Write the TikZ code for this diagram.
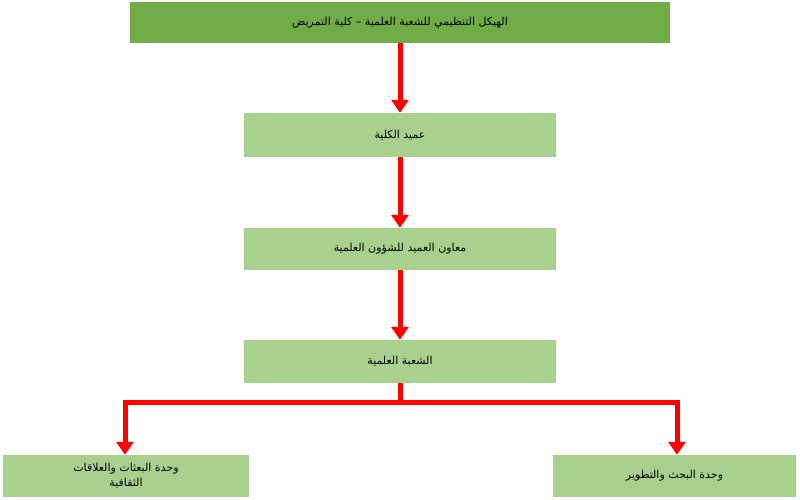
\documentclass[tikz,border=0pt]{standalone}
\usepackage{fontspec}
\newfontfamily\arabicfont[Script=Arabic]{DejaVu Sans}
\TeXXeTstate=1
\usetikzlibrary{arrows.meta}
\begin{document}
\begin{tikzpicture}[x=1pt,y=-1pt,
  box/.style={fill=#1,draw=none,minimum height=43pt,inner sep=0pt,font=\arabicfont\fontsize{11}{15}\selectfont,align=center},
  arr/.style={draw=red,line width=5pt,-{Triangle[length=13pt,width=17pt]}},
  ln/.style={draw=red,line width=5pt}]
\useasboundingbox (0,0) rectangle (800,500);
\node[box={green!45!black!60!lime!70!white},fill={rgb,255:red,112;green,173;blue,71},minimum width=540pt,minimum height=41pt] (t) at (400,22.5) {\beginR الهيكل التنظيمي للشعبة العلمية – كلية التمريض\endR};
\tikzset{lg/.style={fill={rgb,255:red,169;green,209;blue,142}}}
\node[box=white,lg,minimum width=312pt,minimum height=44pt] (a) at (400,135) {\beginR عميد الكلية\endR};
\node[box=white,lg,minimum width=312pt,minimum height=42pt] (b) at (400,249) {\beginR معاون العميد للشؤون العلمية\endR};
\node[box=white,lg,minimum width=312pt,minimum height=43pt] (c) at (400,361.5) {\beginR الشعبة العلمية\endR};
\node[box=white,lg,minimum width=246pt,minimum height=42pt] (l) at (126,476) {\beginR وحدة البعثات والعلاقات\endR\\\beginR الثقافية\endR};
\node[box=white,lg,minimum width=243pt,minimum height=42pt] (r) at (674.5,476) {\beginR وحدة البحث والتطوير\endR};
\draw[arr] (t.south) -- (a.north);
\draw[arr] (a.south) -- (b.north);
\draw[arr] (b.south) -- (c.north);
\coordinate (j) at (400,402);
\coordinate (jl) at (125,402);
\coordinate (jr) at (677,402);
\draw[ln] (c.south) -- (j);
\draw[ln,line join=miter] (jl |- l.north) ++(0,0) coordinate (lt);
\draw[arr,line join=miter] (j) -- (jl) -- (jl |- l.north);
\draw[arr,line join=miter] (j) -- (jr) -- (jr |- r.north);
\end{tikzpicture}
\end{document}
